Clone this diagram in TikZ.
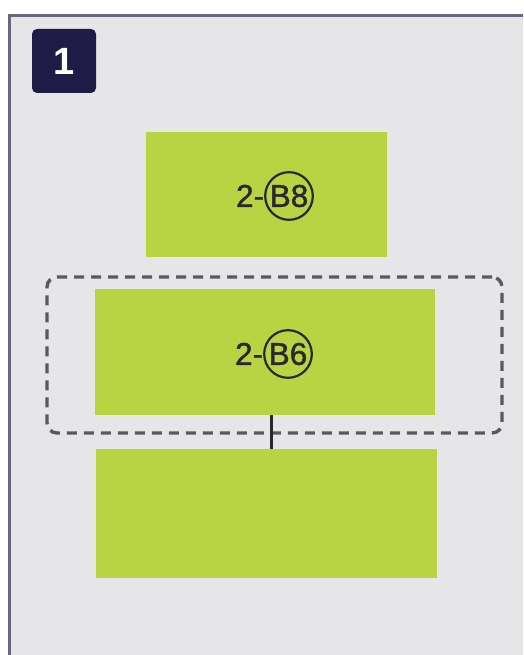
\documentclass[tikz,border=0pt]{standalone}
\usepackage{fontspec}
\setmainfont{Liberation Sans}
\newfontfamily\padfont[FakeBold=1.2]{Liberation Sans}
\usepackage{tikz}

\definecolor{padgreen}{HTML}{B8D443}
\definecolor{panelgray}{HTML}{E6E6E8}
\definecolor{framegray}{HTML}{6B6680}
\definecolor{badgenavy}{HTML}{1F1B47}
\definecolor{dashgray}{HTML}{5E5762}
\definecolor{inkdark}{HTML}{2B2630}

% circled reference mark
\newcommand{\circled}[1]{\tikz[baseline=(ch.base)]\node[circle, draw=inkdark, line width=2.2pt, inner sep=1.2pt] (ch) {#1};}

\begin{document}
\begin{tikzpicture}[x=1pt, y=-1pt,
    pad/.style={fill=padgreen, inner sep=0pt},
    lbl/.style={text=inkdark, inner sep=0pt, font=\padfont\fontsize{31.5}{36}\selectfont},
    badge/.style={fill=badgenavy, text=white, rounded corners=5pt, minimum size=64pt, inner sep=0pt, font=\bfseries\fontsize{38}{44}\selectfont},
    group/.style={draw=dashgray, line width=3.4pt, dash pattern=on 10pt off 7pt, rounded corners=10pt, inner sep=0pt},
    link/.style={draw=inkdark, line width=3pt}]
    \useasboundingbox (0,0) rectangle (523,655);

    % Panel
    \fill[panelgray] (8,15) rectangle (523,655);
    \draw[framegray, line width=3.5pt] (9.5,655) -- (9.5,15.5) -- (523,15.5);

    % Step number
    \node[badge] (step1) at (64,61) {1};

    % Pads
    \node[pad, minimum width=241pt, minimum height=125pt] (b8) at (266.5,194.5) {};
    \node[lbl] (b8lbl) at (275,196) {2-\circled{B8}};

    \node[pad, minimum width=340pt, minimum height=126pt] (b6) at (265,352) {};
    \node[lbl] (b6lbl) at (274,354) {2-\circled{B6}};

    \node[pad, minimum width=341pt, minimum height=129pt] (blank) at (266.5,513.5) {};

    % Selection
    \node[group, minimum width=455pt, minimum height=156pt] (sel) at (274.5,355) {};

    % Link
    \draw[link] ([xshift=6pt]b6.south) -- ([xshift=6pt]b6.south |- blank.north);
\end{tikzpicture}
\end{document}
